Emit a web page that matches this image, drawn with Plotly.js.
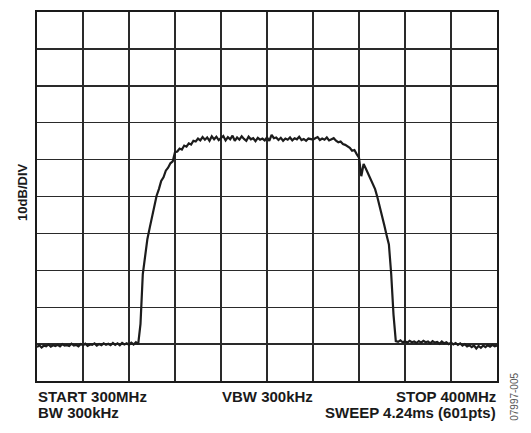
<!DOCTYPE html>
<html>
<head>
<meta charset="utf-8">
<script src="https://cdn.plot.ly/plotly-3.0.1.min.js"></script>
<style>
html,body{margin:0;padding:0;background:#fff;}
#chart{width:531px;height:433px;}
</style>
</head>
<body>
<div id="chart"></div>
<script>
// Sweep: start 300 MHz, 0.5 MHz steps to 400 MHz
var startMHz = 300;
var stepMHz = 0.5;
// Level in dB relative to reference (top line = 0 dB, 10 dB/div)
var levelDb = [
 -90.8,-90.3,-90.9,-90.4,-90.6,-90.1,-90.7,-90.3,-90.5,-90.2,
 -90.6,-90.0,-90.4,-90.3,-90.5,-89.9,-90.4,-90.2,-90.6,-90.0,
 -90.3,-89.9,-90.5,-90.1,-90.2,-89.8,-90.4,-90.0,-90.3,-89.8,
 -90.2,-89.9,-90.3,-89.7,-90.2,-89.8,-90.3,-89.7,-90.1,-89.8,
 -90.2,-89.6,-90.1,-89.5,-90.0,-84.5,-71.0,-66.0,-61.5,-58.5,
 -55.5,-52.0,-49.8,-48.0,-45.8,-44.8,-43.0,-42.2,-41.0,-40.5,
 -38.0,-37.8,-37.0,-37.3,-36.2,-36.5,-35.6,-35.9,-34.9,-35.1,
 -34.3,-34.8,-33.9,-34.6,-34.0,-34.9,-33.7,-34.5,-33.8,-34.7,
 -34.1,-33.6,-34.8,-33.9,-34.5,-33.5,-34.9,-34.0,-34.6,-33.7,
 -34.4,-34.9,-33.8,-34.5,-34.2,-35.0,-34.1,-34.6,-34.3,-34.8,
 -34.0,-34.9,-33.3,-34.2,-34.0,-34.7,-34.1,-34.9,-34.3,-34.6,
 -34.0,-34.8,-34.2,-34.5,-33.8,-34.7,-34.4,-34.9,-34.3,-34.5,
 -34.6,-34.2,-33.9,-34.7,-34.3,-34.6,-34.0,-34.8,-34.4,-34.2,
 -34.9,-35.3,-35.1,-35.8,-36.0,-36.5,-36.8,-37.6,-37.4,-38.5,
 -39.5,-44.5,-41.2,-42.5,-43.8,-45.0,-46.5,-48.0,-50.2,-52.5,
 -55.0,-57.8,-60.5,-63.0,-71.0,-82.0,-89.2,-89.4,-89.0,-89.5,
 -89.2,-89.6,-89.1,-89.5,-89.3,-89.7,-89.2,-89.6,-89.1,-89.5,
 -89.3,-89.8,-89.2,-89.6,-89.4,-89.9,-89.3,-89.8,-89.5,-90.0,
 -89.6,-90.1,-89.7,-90.2,-89.8,-90.4,-90.0,-90.6,-90.3,-90.8,
 -90.4,-91.2,-90.5,-91.0,-90.4,-90.8,-90.3,-90.7,-90.2,-90.6,
 -90.4
];
var xRange = [300, 400];
var yRange = [-100, 0];
var yLabel = "10dB/DIV";
var leftLines = ["START 300MHz", "BW 300kHz"];
var centerLine = "VBW 300kHz";
var rightLines = ["STOP 400MHz", "SWEEP 4.24ms (601pts)"];
var figId = "07997-005";

var trace = {
  type: 'scatter', mode: 'lines',
  x0: startMHz, dx: stepMHz, y: levelDb,
  line: {color: '#1c1c1c', width: 2.2},
  hoverinfo: 'skip'
};

var fontFam = '"Liberation Sans", Arial, Helvetica, sans-serif';
var bold = {family: fontFam, size: 15, color: '#1a1a1a', weight: 'bold'};

var ann = [];
function txt(t, x, xa, line) {
  ann.push({text: t, xref: 'paper', yref: 'paper', x: x, y: 0, xanchor: xa, yanchor: 'top',
    yshift: -6 - line * 15.5, showarrow: false, font: bold, borderpad: 0});
}
txt(leftLines[0], 0, 'left', 0);
txt(leftLines[1], 0, 'left', 1);
txt(centerLine, 0.5, 'center', 0);
txt(rightLines[0], 1, 'right', 0);
txt(rightLines[1], 1, 'right', 1);
ann.push({text: yLabel, xref: 'paper', yref: 'paper', x: -0.033, y: 0.512, textangle: -90,
  xanchor: 'center', yanchor: 'middle', showarrow: false,
  font: {family: fontFam, size: 13, color: '#1a1a1a', weight: 'bold'}});
ann.push({text: figId, xref: 'paper', yref: 'paper', x: 1.039, y: -0.043, textangle: -90,
  xanchor: 'center', yanchor: 'middle', showarrow: false,
  font: {family: fontFam, size: 10, color: '#555'}});

var axisCommon = {
  showticklabels: false, ticks: '', showgrid: true, gridcolor: '#2a2a2a', gridwidth: 1.4,
  zeroline: false, showline: true, mirror: true, linecolor: '#1a1a1a', linewidth: 2.2,
  fixedrange: true
};
var layout = {
  width: 531, height: 433,
  margin: {l: 37, r: 34, t: 12, b: 52, pad: 0},
  paper_bgcolor: '#fff', plot_bgcolor: '#fff',
  showlegend: false,
  xaxis: Object.assign({range: xRange, dtick: 10, tick0: 300}, axisCommon),
  yaxis: Object.assign({range: yRange, dtick: 10, tick0: -100}, axisCommon),
  annotations: ann
};
Plotly.newPlot('chart', [trace], layout, {displayModeBar: false, staticPlot: true});
</script>
</body>
</html>
